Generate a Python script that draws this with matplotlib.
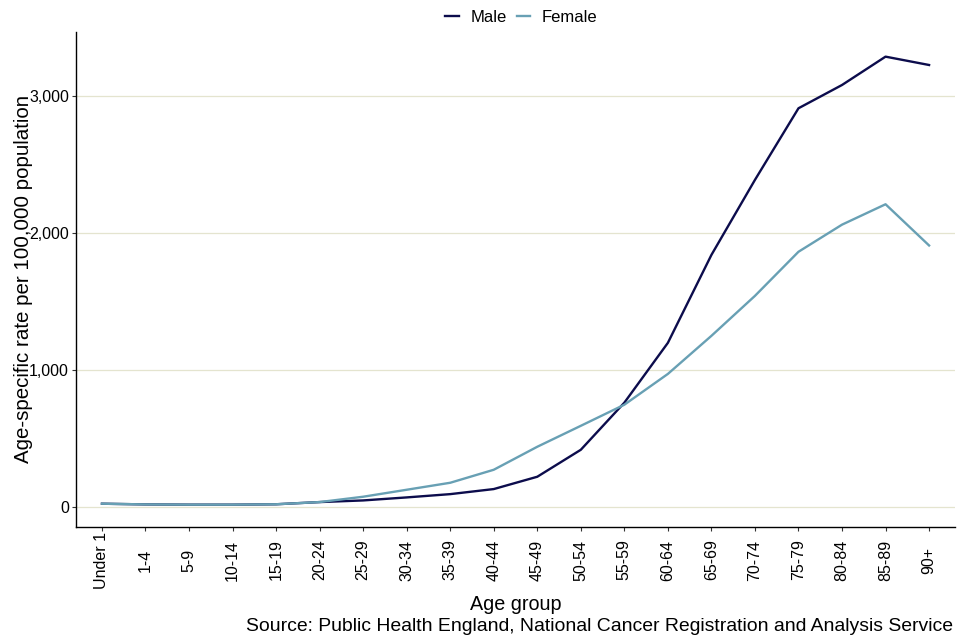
import numpy as np
import matplotlib.pyplot as plt

plt.rcParams['font.family'] = ['Liberation Sans', 'DejaVu Sans']

# Age groups on the x axis
age_groups = ['Under 1', '1-4', '5-9', '10-14', '15-19', '20-24', '25-29', '30-34',
              '35-39', '40-44', '45-49', '50-54', '55-59', '60-64', '65-69', '70-74',
              '75-79', '80-84', '85-89', '90+']

# Rates per 100,000
male = [22, 17, 15, 15, 18, 34, 46, 68, 92, 129, 219, 416, 760, 1197, 1839, 2387,
        2910, 3080, 3287, 3226]
female = [22, 17, 15, 15, 18, 34, 73, 124, 175, 270, 438, 591, 745, 970, 1248, 1540,
          1862, 2060, 2209, 1908]

fig = plt.figure(figsize=(9.6, 6.4), dpi=100)
ax = fig.add_axes([0.079, 0.177, 0.916, 0.773])

x = np.arange(len(age_groups))
ax.plot(x, male, color='#0c0c4c', linewidth=1.7, label='Male')
ax.plot(x, female, color='#68a0b4', linewidth=1.7, label='Female')

ax.set_xlim(-0.6, len(age_groups) - 1 + 0.6)
ax.set_ylim(-146, 3467)
ax.set_yticks([0, 1000, 2000, 3000])
ax.set_yticklabels(['0', '1,000', '2,000', '3,000'])
ax.grid(axis='y', color='#e4e4cf', linewidth=0.9)
ax.set_axisbelow(True)

ax.set_xticks(x)
ax.set_xticklabels(age_groups, rotation=90, va='center', ha='center')

for s in ['top', 'right']:
    ax.spines[s].set_visible(False)
for s in ['left', 'bottom']:
    ax.spines[s].set_color('black')
    ax.spines[s].set_linewidth(1.0)

ax.tick_params(axis='x', length=3, color='#333333', labelsize=11.5, pad=21)
ax.tick_params(axis='y', length=3, color='#333333', labelsize=11.5, pad=2)

ax.set_xlabel('Age group', fontsize=14.2, labelpad=5)
ax.set_ylabel('Age-specific rate per 100,000 population', fontsize=14.8)
ax.yaxis.set_label_coords(-0.049, 0.5)

fig.legend(loc='upper center', ncol=2, frameon=False, fontsize=12,
           bbox_to_anchor=(0.543, 1.008), handlelength=0.8, columnspacing=0.6,
           handletextpad=0.7)

fig.text(0.993, 0.008, 'Source: Public Health England, National Cancer Registration and Analysis Service',
         ha='right', va='bottom', fontsize=13.95)

fig.savefig('out.png', dpi=100)
